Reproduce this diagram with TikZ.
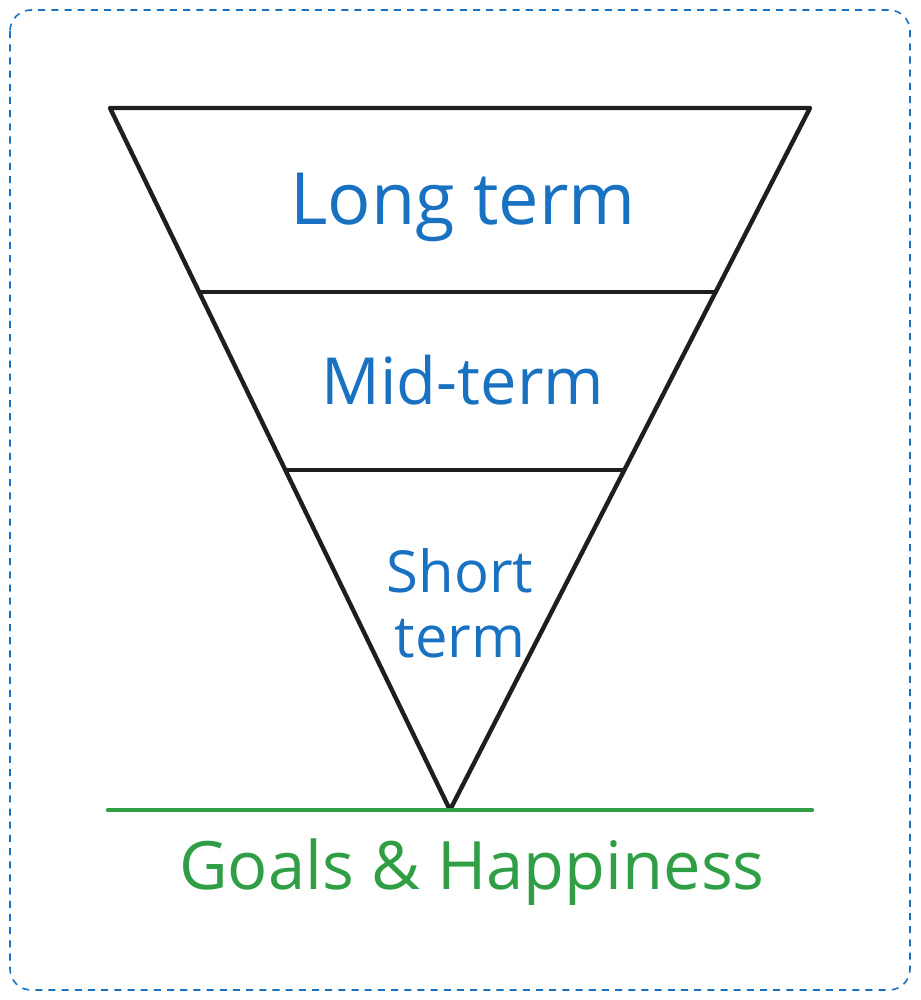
\documentclass[tikz,border=0pt]{standalone}
\usepackage{fontspec}
\setmainfont{Open Sans}
\usetikzlibrary{calc}
\definecolor{inkblack}{HTML}{1E1E1E}
\definecolor{inkblue}{HTML}{1971C2}
\definecolor{inkgreen}{HTML}{2F9E44}

\begin{document}
\begin{tikzpicture}[
    x=0.02cm, y=-0.02cm,
    edge/.style={draw=inkblack, line width=2.5pt, line join=round, line cap=round},
    tier/.style={text=inkblue, align=center, inner sep=0pt},
    base/.style={text=inkgreen, font=\fontsize{38}{46}\selectfont, inner sep=0pt}
  ]
  \useasboundingbox (0,0) rectangle (920,1000);
  % --- frame ---
  \draw[inkblue, line width=0.9pt, dash pattern=on 4pt off 3.5pt, rounded corners=12pt]
    (10,10) rectangle (910,990);

  % --- funnel corners ---
  \coordinate (tl) at (110,108);
  \coordinate (tr) at (810,108);
  \coordinate (apex) at (450,810);
  \coordinate (l1) at ($(tl)!0.262!(apex)$);
  \coordinate (r1) at ($(tr)!0.262!(apex)$);
  \coordinate (l2) at ($(tl)!0.516!(apex)$);
  \coordinate (r2) at ($(tr)!0.516!(apex)$);

  \draw[edge] (tl) -- (tr) -- (apex) -- cycle;
  \draw[edge] (l1) -- (r1);
  \draw[edge] (l2) -- (r2);

  % --- ground line ---
  \coordinate (g1) at (108,810);
  \coordinate (g2) at (812,810);
  \draw[draw=inkgreen, line width=2.5pt, line cap=round] (g1) -- (g2);

  % --- labels ---
  \node[tier, font=\fontsize{41}{50}\selectfont] (long) at (463,207) {Long term};
  \node[tier, font=\fontsize{37}{44}\selectfont] (mid) at (463,380) {Mid-term};
  \node[tier, font=\fontsize{33}{37}\selectfont] (short) at (460,603) {Short\\term};
  \node[base] (goals) at (472,872) {Goals \& Happiness};
\end{tikzpicture}
\end{document}
